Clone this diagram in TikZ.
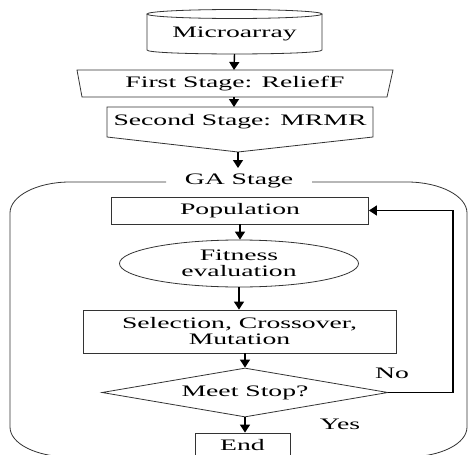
\documentclass[tikz,border=0pt]{standalone}
\usepackage{fontspec}
\setmainfont{Liberation Serif}[FakeStretch=1.73]
\usetikzlibrary{arrows.meta,shapes.geometric}
\begin{document}
\begin{tikzpicture}[x=1pt,y=-1pt,
  line width=0.8pt,
  every node/.style={font=\fontsize{16}{16}\selectfont, inner sep=0pt, text=black},
  shapeline/.style={draw=black!80, line width=0.8pt},
  box/.style={shapeline, rectangle, align=center},
  arr/.style={line width=1.4pt, draw=black, -{Triangle[width=10pt,length=8pt]}}]
\useasboundingbox (0,0) rectangle (469,455);
% Microarray cylinder
\draw[shapeline] (147,14) -- (147,50) .. controls (147,55.3) and (322,55.3) .. (322,50) -- (322,14);
\draw[shapeline] (234.5,14) ellipse [x radius=87.5pt, y radius=4.5pt];
\node (mic) at (234.5,34) {Microarray};
\coordinate (micB) at (234.5,54);
% First stage
\draw[shapeline] (77,70) -- (393,70) -- (387,97) -- (82,97) -- cycle;
\node (first) at (235,84) {First Stage: ReliefF};
\coordinate (firstT) at (234,70);
\coordinate (firstB) at (234,97);
% Second stage
\draw[shapeline] (107,107) -- (373,107) -- (373,137) -- (238,152) -- (107,137) -- cycle;
\node (second) at (240,122) {Second Stage: MRMR};
\coordinate (secT) at (234,107);
\coordinate (secB) at (238,152);
\coordinate (gaT) at (238,168);
% GA frame
\draw[shapeline] (312,182) -- (407,182) .. controls (440,182) and (467,196) .. (467,213) -- (467,427)
  .. controls (467,444) and (440,457) .. (407,457) -- (70,457)
  .. controls (37,457) and (10,444) .. (10,427) -- (10,213)
  .. controls (10,196) and (37,182) .. (70,182) -- (166,182);
\node (ga) at (239,181) {GA Stage};
% GA nodes
\node[box, minimum width=257pt, minimum height=27pt] (pop) at (240,210.5) {Population};
\node[shapeline, ellipse, minimum width=239pt, minimum height=47pt, align=center] (fit) at (239,263.5) {Fitness\\evaluation};
\node[box, minimum width=313pt, minimum height=43pt] (sel) at (239.5,331.5) {Selection, Crossover,\\Mutation};
\node[shapeline, diamond, aspect=5.84, minimum width=286pt, minimum height=49pt] (stop) at (245,392.5) {Meet Stop?};
\node[box, minimum width=95pt, minimum height=25pt] (end) at (242.5,445.5) {End};
\node (no) at (392,373) {No};
\node (yes) at (340,424) {Yes};
\coordinate (loop) at (453,210.5);
% connectors
\draw[arr] (micB) -- (firstT);
\draw[arr] (firstB) -- (secT);
\draw[arr] (secB) -- (gaT);
\draw[arr] (pop.south) -- (pop.south |- fit.north);
\draw[arr] (fit.south) -- (fit.south |- sel.north);
\draw[arr] (sel.south -| stop.north) -- (stop.north);
\draw[arr] (stop.south) -- (stop.south |- end.north);
\draw[arr] (stop.east) -| (loop) -- (pop.east);
\end{tikzpicture}
\end{document}
